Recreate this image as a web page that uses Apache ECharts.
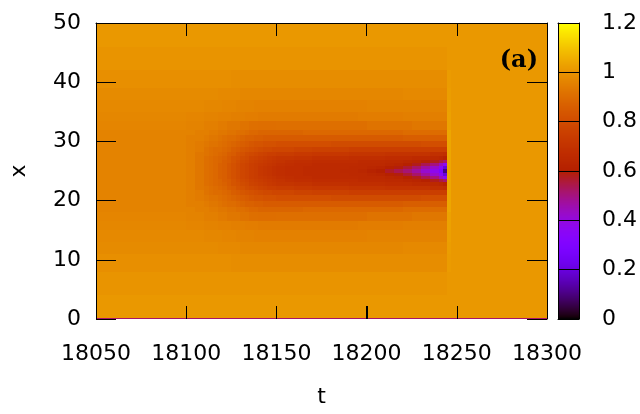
<!DOCTYPE html>
<html><head><meta charset="utf-8">
<script src="https://cdn.jsdelivr.net/npm/echarts@6/dist/echarts.min.js"></script>
<style>html,body{margin:0;padding:0;background:#fff}#c{width:640px;height:414px}</style>
</head><body><div id="c"></div>
<script>
// Column (t) edges and row (x) edges of the sampled field
const tEdges = [18050,18060,18070,18080,18090,18100,18105,18110,
  18112.5,18115,18117.5,18120,18122.5,18125,18127.5,18130,18132.5,18135,18137.5,18140,18142.5,18145,18147.5,18150,
  18155,18160,18165,18170,18175,18180,18185,18190,18195,18200,18205,18210,18215,18220,18225,18230,18235,18240,
  18242.5,18244.5,18247,18252,18260,18280,18300];
const xEdges = [0,0.25,4,8,11,13,15,16.5,18,19,20,21,21.75,22.5,23.1,23.7,24.2,24.6,25.4,25.8,26.3,26.9,27.5,28.25,29,30,31,32,33.5,35,37,39,42,46,50];
// Values (x100) per row, by distance from the band centre x=25
const rowCenter = [96,96,96,96,96, 95,93, 91,90,89,87,86,84,82,80,78,77,75,74,72,71,70,69,
  68,67,67,66,66,66,66,65,65,64,62,60,57,54,51,47,42,37, 29,10, 104,101,101,101,101];
const rowA = [96,96,96,96,96, 95,93, 91,90,89,87,86,84,82,80,78,77,75,74,72,71,70,69,
  68,67,67,66,66,66,66,66,65,65,64,63,61,59,56,52,47,42, 35,20, 104,101,101,101,101];
const rowB = [96,96,96,96,96, 95,93, 91,90,89,87,86,84,82,80,78,77,75,74,73,72,71,70,
  69,68,67,67,66,66,66,66,66,65,65,65,64,63,61,58,54,50, 44,36, 104,101,101,101,101];
const rowC = [96,96,96,96,96, 95,93, 91,90,89,88,86,85,83,81,79,78,76,75,74,73,72,71,
  70,69,68,68,67,67,67,67,67,66,66,66,65,65,64,63,61,58, 55,52, 104,101,101,101,101];
const rowD = [96,96,96,96,96, 95,93, 91,90,89,88,87,85,83,82,80,79,77,76,75,74,73,72,
  71,71,70,70,69,69,69,69,68,68,68,68,67,67,67,66,66,65, 64,62, 104,101,101,101,101];
const rowE = [96,96,96,96,96, 95,93, 92,91,90,89,88,86,85,83,82,80,79,78,77,76,75,75,
  74,74,73,73,72,72,72,72,71,71,71,71,70,70,70,70,70,69, 69,68, 104,101,101,101,101];
const rowF = [96,96,96,96,96, 95,94, 92,91,90,90,89,88,86,85,84,83,82,81,80,79,79,78,
  78,78,77,77,76,76,76,76,75,75,75,75,75,75,75,75,75,75, 75,75, 104,101,101,101,101];
const rowG = [96,96,96,96,96, 95,94, 93,92,92,91,90,89,88,87,86,85,84,83,83,82,82,82,
  81,81,81,81,81,81,80,80,80,80,80,80,80,80,80,80,81,81, 81,81, 104,101,101,101,101];
const rowH = [96,96,96,96,96, 95,95, 94,93,93,92,91,90,90,89,88,87,87,86,86,85,85,85,
  85,85,85,85,85,85,85,85,85,85,85,85,85,85,86,86,86,86, 86,86, 104,101,101,101,101];
const rowI = [96,96,96,96,96, 96,95, 95,94,94,93,93,92,92,91,91,90,89,89,88,88,88,88,
  88,88,88,89,89,89,89,89,89,89,89,89,89,89,90,90,90,90, 90,90, 104,101,101,101,101];
const rowJ = [96.5,96.5,96.5,96.5,96.5, 96,96, 95,95,95,94,94,93,93,93,92,92,91,91,90.5,90.5,90.5,90.5,
  91,91,91,91,91,91,91,91,91,91,92,92,92,92,92,93,93,93, 93,93, 103,101,101,101,101];
const rowK = [97,97,97,97,97, 96.5,96.5, 96,96,96,95.5,95.5,95.5,95,95,95,94.5,94.5,94.5,94,94,94,94,
  94,94,94,94,94,94,94,94,94,94.5,94.5,94.5,94.5,94.5,95,95,95,95, 95,95, 103,101,101,101,101];
const rowL = [97.5,97.5,97.5,97.5,97.5, 97.5,97.5, 97,97,97,97,96.5,96.5,96.5,96,96,96,96,95.5,95.5,95.5,95.5,95.5,
  95.5,95.5,95.5,95.5,95.5,95.5,95.5,95.5,95.5,95.5,96,96,96,96,96,96,96,96, 96,96, 102.5,101,101,101,101];
const rowM = [98,98,98,98,98, 98,98, 98,98,98,97.5,97.5,97.5,97.5,97.5,97,97,97,97,97,97,97,97,
  97,97,97,97,97,97,97,97,97,97,97,97,97,97,97.5,97.5,97.5,97.5, 97.5,97.5, 102,101,101,101,101];
const rowN = [99,99,99,99,99, 99,99, 99,99,99,99,99,99,98.5,98.5,98.5,98.5,98.5,98.5,98.5,98.5,98.5,98.5,
  98.5,98.5,98.5,98.5,98.5,98.5,98.5,98.5,98.5,98.5,98.5,98.5,98.5,98.5,98.5,98.5,98.5,98.5, 98.5,98.5, 101.5,101,101,101,101];
const rowO = [100,100,100,100,100, 100,100, 100,100,100,100,100,100,100,100,100,100,100,100,100,100,100,100,
  100,100,100,100,100,100,100,100,100,100,100,100,100,100,100,100,100,100, 100,100, 101,101,101,101,101];
const rowP = [101,101,101,101,101, 101,101, 101,101,101,101,101,101,101,101,101,101,101,101,101,101,101,101,
  101,101,101,101,101,101,101,101,101,101,101,101,101,101,101,101,101,101, 101,101, 101,101,101,101,101];
const rowBoundary = [52,52,52,52,52, 52,52, 52,52,52,52,52,52,52,52,52,52,52,52,52,52,52,52,
  52,52,52,52,52,52,52,52,52,52,52,52,52,52,52,52,52,52, 52,52, 52,52,52,52,52];
const rows = [rowBoundary,rowP,rowO,rowN,rowM,rowL,rowK,rowJ,rowI,rowH,rowG,rowF,rowE,rowD,rowC,rowB,rowA,rowCenter,rowA,rowB,rowC,rowD,rowE,rowF,rowG,rowH,rowI,rowJ,rowK,rowL,rowM,rowN,rowO,rowP];
const xTicks = [18050,18100,18150,18200,18250,18300];
const yTicks = [0,10,20,30,40,50];
const cbTicks = [0,0.2,0.4,0.6,0.8,1,1.2];

const data = [];
for (let r = 0; r < rows.length; r++) {
  for (let c = 0; c < tEdges.length - 1; c++) {
    data.push([tEdges[c], tEdges[c+1], xEdges[r], xEdges[r+1], rows[r][c] / 100]);
  }
}
// colour box: thin strips spanning the colour range
const cbData = [];
const CBN = 296;
for (let i = 0; i < CBN; i++) {
  const v0 = 1.2 * i / CBN, v1 = 1.2 * (i + 1) / CBN;
  cbData.push([0, 1, v0, v1, (v0 + v1) / 2]);
}
// gnuplot default palette (rgbformulae 7,5,15)
const pal = [];
for (let i = 0; i <= 120; i++) {
  const s = i / 120;
  const r = Math.sqrt(s), g = s*s*s, b = Math.max(0, Math.min(1, Math.sin(2*Math.PI*s)));
  pal.push('rgb(' + Math.round(r*255) + ',' + Math.round(g*255) + ',' + Math.round(b*255) + ')');
}
const FONT = 'DejaVu Sans';
const FS = 22;
function rectItem(params, api) {
  const p0 = api.coord([api.value(0), api.value(2)]);
  const p1 = api.coord([api.value(1), api.value(3)]);
  const x0 = Math.round(p0[0]), x1 = Math.round(p1[0]);
  const yb = Math.round(p0[1]), yt = Math.round(p1[1]);
  return {type: 'rect', shape: {x: x0, y: yt, width: x1 - x0, height: yb - yt},
          style: {fill: api.visual('color')}};
}
// bottom tick marks (drawn above the field)
function tickItem(params, api) {
  const p = api.coord([api.value(0), yTicks[0]]);
  const x = Math.round(p[0]) + 0.5;
  return {type: 'line', shape: {x1: x, y1: p[1], x2: x, y2: p[1] - 13},
          style: {stroke: '#000', lineWidth: 1}};
}
const blackLine = {show: true, onZero: false, lineStyle: {color: '#000', width: 1}};
const clearLine = {show: true, onZero: false, lineStyle: {color: 'rgba(0,0,0,0)', width: 1}};
const tick = (len) => ({show: true, inside: true, length: len, lineStyle: {color: '#000', width: 1}});
const chart = echarts.init(document.getElementById('c'), null, {renderer: 'canvas'});
chart.setOption({
  animation: false,
  backgroundColor: '#fff',
  grid: [
    {left: 95, top: 23, width: 452, height: 296},
    {left: 558, top: 23, width: 24, height: 296}
  ],
  xAxis: [
    {type: 'value', gridIndex: 0, min: xTicks[0], max: xTicks[xTicks.length-1], interval: 50, position: 'bottom', z: 10,
     axisLine: clearLine, splitLine: {show: false}, axisTick: tick(13),
     axisLabel: {fontFamily: FONT, fontSize: FS, color: '#000', margin: 24, formatter: v => String(v)},
     name: 't', nameLocation: 'middle', nameGap: 67, nameTextStyle: {fontFamily: FONT, fontSize: FS, color: '#000'}},
    {type: 'value', gridIndex: 0, min: xTicks[0], max: xTicks[xTicks.length-1], interval: 50, position: 'top', z: 10,
     axisLine: blackLine, splitLine: {show: false}, axisTick: tick(13), axisLabel: {show: false}},
    {type: 'value', gridIndex: 1, min: 0, max: 1, position: 'bottom', z: 10,
     axisLine: blackLine, axisTick: {show: false}, axisLabel: {show: false}, splitLine: {show: false}},
    {type: 'value', gridIndex: 1, min: 0, max: 1, position: 'top', z: 10,
     axisLine: blackLine, axisTick: {show: false}, axisLabel: {show: false}, splitLine: {show: false}}
  ],
  yAxis: [
    {type: 'value', gridIndex: 0, min: yTicks[0], max: yTicks[yTicks.length-1], interval: 10, position: 'left', z: 10,
     axisLine: blackLine, splitLine: {show: false}, axisTick: tick(20),
     axisLabel: {fontFamily: FONT, fontSize: FS, color: '#000', margin: 15},
     name: 'x', nameLocation: 'middle', nameGap: 66, nameTextStyle: {fontFamily: FONT, fontSize: FS, color: '#000'}},
    {type: 'value', gridIndex: 0, min: yTicks[0], max: yTicks[yTicks.length-1], interval: 10, position: 'right', z: 10,
     axisLine: blackLine, splitLine: {show: false}, axisTick: tick(20), axisLabel: {show: false}},
    {type: 'value', gridIndex: 1, min: cbTicks[0], max: cbTicks[cbTicks.length-1], interval: 0.2, position: 'right', z: 10,
     axisLine: blackLine, axisTick: {show: false},
     splitLine: {show: true, lineStyle: {color: '#000', width: 1}},
     axisLabel: {fontFamily: FONT, fontSize: FS, color: '#000', margin: 23, formatter: v => String(+v.toFixed(1))}},
    {type: 'value', gridIndex: 1, min: cbTicks[0], max: cbTicks[cbTicks.length-1], interval: 0.2, position: 'left', z: 10,
     axisLine: blackLine, splitLine: {show: false}, axisTick: {show: false}, axisLabel: {show: false}}
  ],
  visualMap: {
    type: 'continuous', show: false, min: 0, max: 1.2, dimension: 4, seriesIndex: [0, 1],
    inRange: {color: pal}
  },
  graphic: [{
    type: 'text', right: 640 - 538, top: 49, z: 20,
    style: {text: '(a)', font: 'bold 24px "DejaVu Serif"', fill: '#000'}
  }],
  series: [{
    type: 'custom', xAxisIndex: 0, yAxisIndex: 0, clip: true, z: 2,
    encode: {x: [0, 1], y: [2, 3]}, data: data, renderItem: rectItem
  }, {
    type: 'custom', xAxisIndex: 2, yAxisIndex: 2, clip: true, z: 2,
    encode: {x: [0, 1], y: [2, 3]}, data: cbData, renderItem: rectItem
  }, {
    type: 'custom', xAxisIndex: 0, yAxisIndex: 0, clip: false, z: 5, silent: true,
    encode: {x: 0}, data: xTicks.slice(1, -1).map(t => [t]), renderItem: tickItem
  }]
});
</script></body></html>
